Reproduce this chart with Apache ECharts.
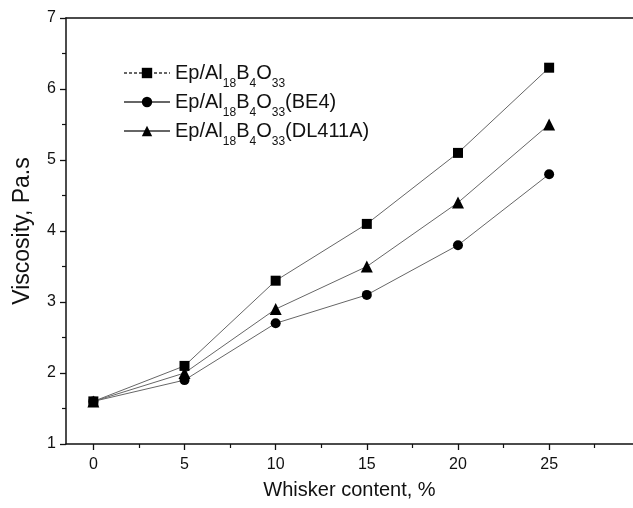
<!DOCTYPE html>
<html>
<head>
<meta charset="utf-8">
<script src="https://cdn.jsdelivr.net/npm/echarts@6/dist/echarts.min.js"></script>
<style>
html, body { margin: 0; padding: 0; background: #fff; }
#chart { width: 633px; height: 508px; }
</style>
</head>
<body>
<div id="chart"></div>
<script>
// whisker content (%)
var whisker = [0, 5, 10, 15, 20, 25];
var plain = [1.6, 2.1, 3.3, 4.1, 5.1, 6.3];
var be4 = [1.6, 1.9, 2.7, 3.1, 3.8, 4.8];
var dl411a = [1.6, 2.0, 2.9, 3.5, 4.4, 5.5];
var xTicks = [0, 5, 10, 15, 20, 25];
var xMinorTicks = [2.5, 7.5, 12.5, 17.5, 22.5, 27.5];

var names = ['plain', 'BE4', 'DL411A'];
var suffix = { plain: '', BE4: '(BE4)', DL411A: '(DL411A)' };

function pairs(ys) {
	var out = [];
	for (var i = 0; i < whisker.length; i++) out.push([whisker[i], ys[i]]);
	return out;
}

var fontFam = '"Liberation Sans", Arial, sans-serif';

window.onload = function () {
	var chart = echarts.init(document.getElementById('chart'));

	var lineStyle = { color: '#666', width: 1 };

	var option = {
		animation: false,
		textStyle: { fontFamily: fontFam },
		grid: { left: 66, top: 18, right: 0, bottom: 64 },
		legend: {
			left: 118,
			top: 58,
			orient: 'vertical',
			itemGap: 2,
			itemWidth: 46,
			itemHeight: 13,
			data: [
				{ name: 'plain', lineStyle: { type: [3, 2] } },
				{ name: 'BE4' },
				{ name: 'DL411A' }
			],
			formatter: function (n) {
				return '{n|Ep/Al}{s|18}{n|B}{s|4}{n|O}{s|33}{n|' + suffix[n] + '}';
			},
			textStyle: {
				rich: {
					n: { fontSize: 20, color: '#111', fontFamily: fontFam },
					s: { fontSize: 12, color: '#111', fontFamily: fontFam, padding: [22, 0, 0, 0] }
				}
			}
		},
		xAxis: [{
			type: 'value',
			min: -1.5,
			max: 29.6,
			name: 'Whisker content, %',
			nameLocation: 'middle',
			nameGap: 36,
			nameTextStyle: { fontSize: 20, color: '#111', fontFamily: fontFam },
			axisLine: { show: true, onZero: false, lineStyle: { color: '#111', width: 1.5 } },
			axisTick: { show: true, customValues: xTicks, length: 6, lineStyle: { color: '#111', width: 1.3 } },
			axisLabel: { customValues: xTicks, fontSize: 16, color: '#111', margin: 13 },
			splitLine: { show: false }
		}, {
			type: 'value',
			min: -1.5,
			max: 29.6,
			position: 'bottom',
			axisLine: { show: false, onZero: false },
			axisTick: { show: true, customValues: xMinorTicks, length: 4, lineStyle: { color: '#111', width: 1.2 } },
			axisLabel: { show: false },
			splitLine: { show: false }
		}, {
			type: 'value',
			min: -1.5,
			max: 29.6,
			position: 'top',
			axisLine: { show: true, onZero: false, lineStyle: { color: '#111', width: 1.5 } },
			axisTick: { show: false },
			axisLabel: { show: false },
			splitLine: { show: false }
		}],
		yAxis: {
			type: 'value',
			min: 1,
			max: 7,
			interval: 1,
			name: 'Viscosity, Pa.s',
			nameLocation: 'middle',
			nameGap: 32,
			nameTextStyle: { fontSize: 23, color: '#111', fontFamily: fontFam },
			axisLine: { show: true, onZero: false, lineStyle: { color: '#111', width: 1.5 } },
			axisTick: { show: true, length: 6, lineStyle: { color: '#111', width: 1.3 } },
			minorTick: { show: true, splitNumber: 2, length: 4, lineStyle: { color: '#111', width: 1.2 } },
			axisLabel: { fontSize: 16, color: '#111', margin: 10 },
			splitLine: { show: false }
		},
		series: [{
			name: 'plain',
			type: 'line',
			data: pairs(plain),
			symbol: 'rect',
			symbolSize: 10,
			itemStyle: { color: '#000' },
			lineStyle: lineStyle
		}, {
			name: 'BE4',
			type: 'line',
			data: pairs(be4),
			symbol: 'circle',
			symbolSize: 10,
			itemStyle: { color: '#000' },
			lineStyle: lineStyle
		}, {
			name: 'DL411A',
			type: 'line',
			data: pairs(dl411a),
			symbol: 'triangle',
			symbolSize: 12,
			itemStyle: { color: '#000' },
			lineStyle: lineStyle
		}]
	};

	chart.setOption(option);
};
</script>
</body>
</html>
